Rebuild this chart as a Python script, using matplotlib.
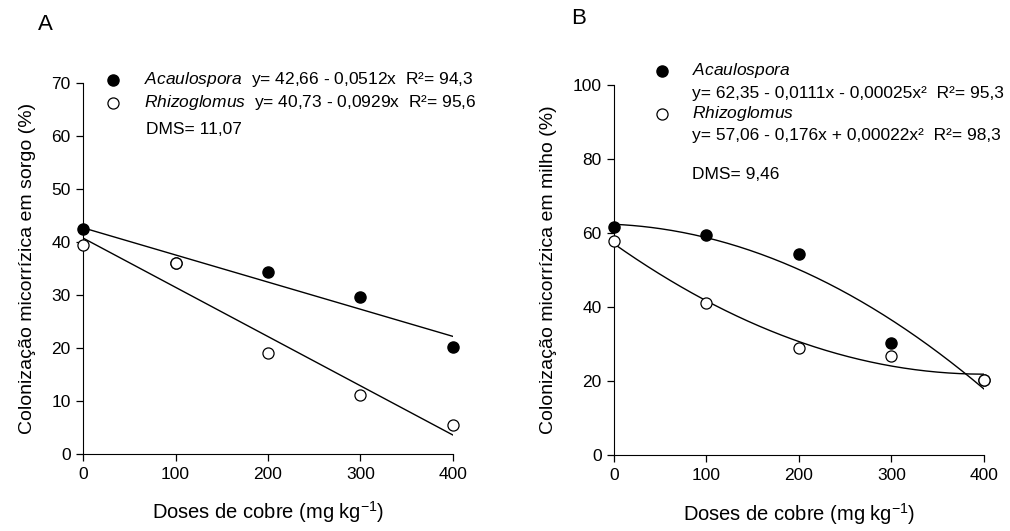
import numpy as np
import matplotlib
matplotlib.use("Agg")
import matplotlib.pyplot as plt

plt.rcParams["font.family"] = ["Liberation Sans", "DejaVu Sans"]
plt.rcParams["mathtext.fontset"] = "custom"
plt.rcParams["mathtext.rm"] = "Liberation Sans"
plt.rcParams["mathtext.it"] = "Liberation Sans:italic"

# Copper doses (mg kg-1)
doses = [0, 100, 200, 300, 400]

# Sorghum colonisation (%)
sorgo_acaulospora = [42.4, 36.0, 34.3, 29.6, 20.1]
sorgo_rhizoglomus = [39.4, 36.1, 19.1, 11.1, 5.5]
# Maize colonisation (%)
milho_acaulospora = [61.5, 59.5, 54.3, 30.2, 20.2]
milho_rhizoglomus = [57.9, 41.2, 28.8, 26.8, 20.2]

# Regression coefficients (b0, b1, b2)
coef_sorgo_acaulospora = (42.66, -0.0512, 0.0)
coef_sorgo_rhizoglomus = (40.73, -0.0929, 0.0)
coef_milho_acaulospora = (62.35, -0.0111, -0.00025)
coef_milho_rhizoglomus = (57.06, -0.176, 0.00022)

xfit = np.linspace(0, 400, 200)
LEG_FS = 12.5


def curve(c):
    return c[0] + c[1] * xfit + c[2] * xfit ** 2


def style_axes(ax, ymax, ystep, ylabel):
    ax.set_xlim(0, 400)
    ax.set_ylim(0, ymax)
    ax.set_xticks(range(0, 401, 100))
    ax.set_yticks(range(0, ymax + 1, ystep))
    for s in ("top", "right"):
        ax.spines[s].set_visible(False)
    ax.tick_params(direction="out", length=5, width=0.9, labelsize=12.5, pad=4)
    ax.set_xlabel("Doses de cobre (mg kg$^{-1}$)", fontsize=14.5, labelpad=13)
    ax.set_ylabel(ylabel, fontsize=14, labelpad=11)


def points(ax, x, y_fill, y_open):
    ax.plot(x, y_fill, "o", ms=8, mfc="black", mec="black", clip_on=False, zorder=3)
    ax.plot(x, y_open, "o", ms=8, mfc="white", mec="black", mew=0.9,
            clip_on=False, zorder=4)


fig = plt.figure(figsize=(10.1, 5.31), dpi=100)
axA = fig.add_axes([0.0822, 0.145, 0.3663, 0.699])
axB = fig.add_axes([0.608, 0.143, 0.366, 0.697])

# Panel A: sorghum
axA.plot(xfit, curve(coef_sorgo_acaulospora), color="black", lw=1.0)
axA.plot(xfit, curve(coef_sorgo_rhizoglomus), color="black", lw=1.0)
points(axA, doses, sorgo_acaulospora, sorgo_rhizoglomus)
style_axes(axA, 70, 10, "Colonização micorrízica em sorgo (%)")

axA.plot([32], [70.6], "o", ms=8, mfc="black", mec="black", clip_on=False)
axA.plot([32], [66.2], "o", ms=8, mfc="white", mec="black", mew=0.9, clip_on=False)
axA.text(66, 70.6, r"$\it{Acaulospora}$  y= 42,66 - 0,0512x  R²= 94,3",
         fontsize=LEG_FS, va="center")
axA.text(66, 66.2, r"$\it{Rhizoglomus}$  y= 40,73 - 0,0929x  R²= 95,6",
         fontsize=LEG_FS, va="center")
axA.text(68, 61.2, "DMS= 11,07", fontsize=LEG_FS, va="center")

# Panel B: maize
axB.plot(xfit, curve(coef_milho_acaulospora), color="black", lw=1.0)
axB.plot(xfit, curve(coef_milho_rhizoglomus), color="black", lw=1.0)
points(axB, doses, milho_acaulospora, milho_rhizoglomus)
style_axes(axB, 100, 20, "Colonização micorrízica em milho (%)")

axB.plot([52], [103.8], "o", ms=8, mfc="black", mec="black", clip_on=False)
axB.plot([52], [92.2], "o", ms=8, mfc="white", mec="black", mew=0.9, clip_on=False)
axB.text(84, 103.8, r"$\it{Acaulospora}$", fontsize=LEG_FS, va="center")
axB.text(84, 97.7, "y= 62,35 - 0,0111x - 0,00025x²  R²= 95,3",
         fontsize=LEG_FS, va="center")
axB.text(84, 92.2, r"$\it{Rhizoglomus}$", fontsize=LEG_FS, va="center")
axB.text(84, 86.3, "y= 57,06 - 0,176x + 0,00022x²  R²= 98,3",
         fontsize=LEG_FS, va="center")
axB.text(84, 75.7, "DMS= 9,46", fontsize=LEG_FS, va="center")

fig.text(45 / 1010, 1 - 25 / 531, "A", fontsize=16, ha="center", va="center")
fig.text(579 / 1010, 1 - 19 / 531, "B", fontsize=16, ha="center", va="center")

fig.savefig("out.png", dpi=100)
